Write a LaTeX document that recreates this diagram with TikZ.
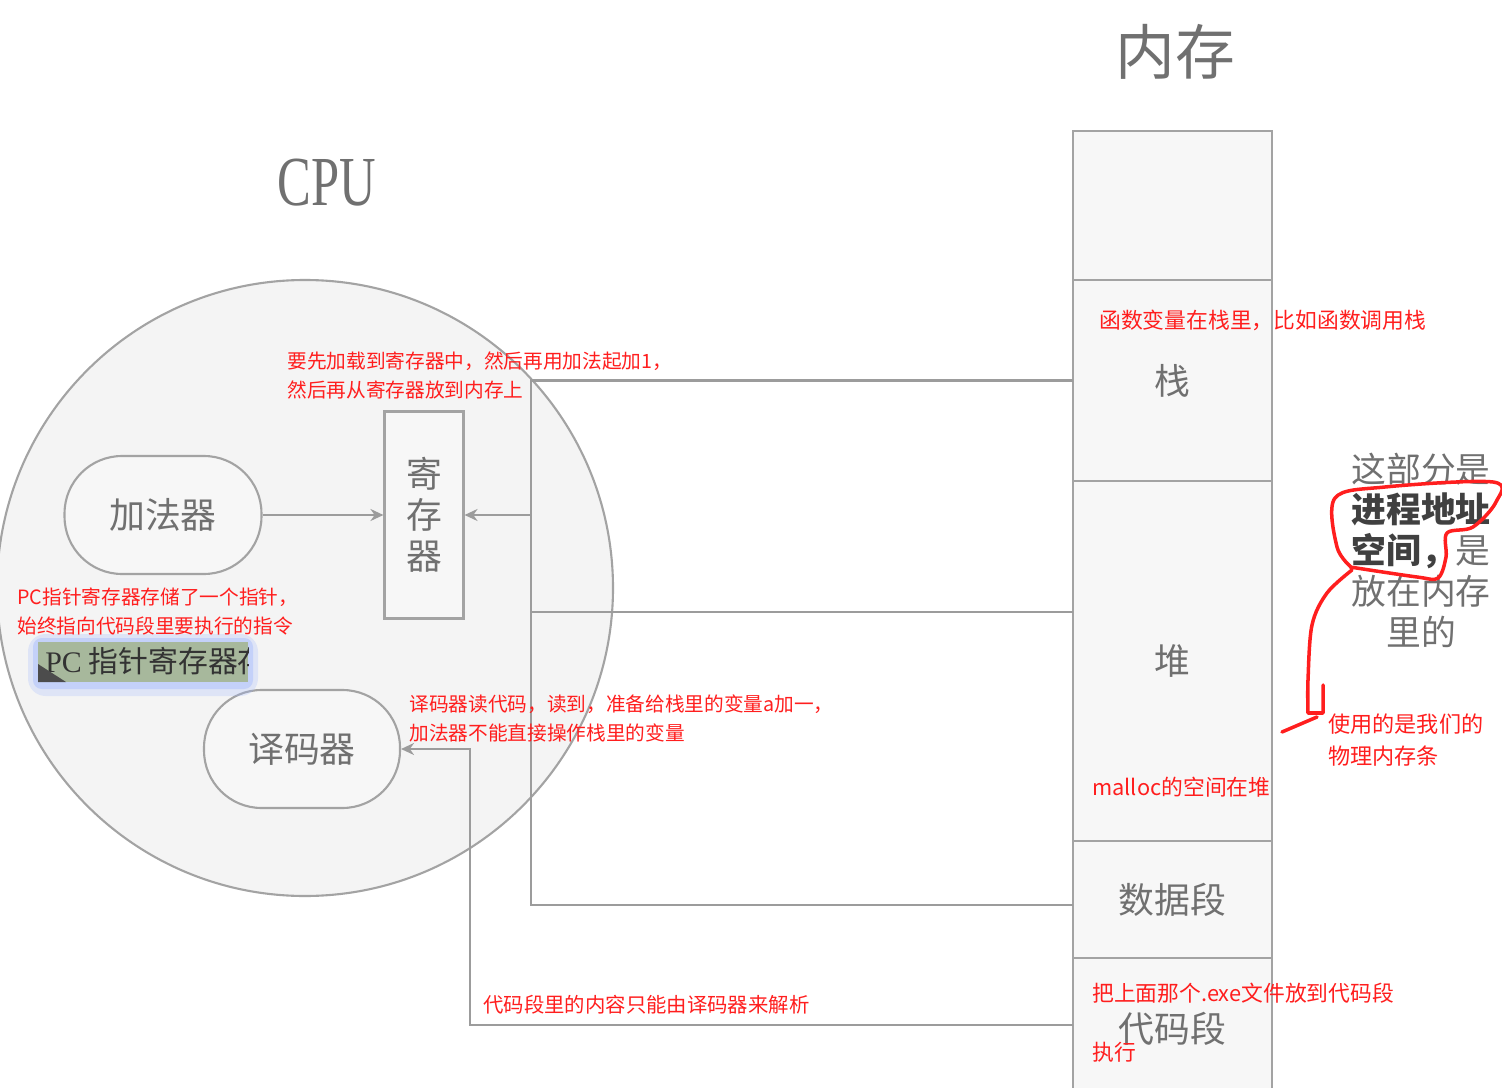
\documentclass[tikz,border=0pt]{standalone}
\usepackage{fontspec}
\setmainfont{Noto Sans CJK SC}
\newfontfamily\latinserif{Liberation Serif}
\usetikzlibrary{positioning,arrows.meta}
\definecolor{boxgray}{HTML}{A3A3A3}
\definecolor{wiregray}{HTML}{9C9C9C}
\definecolor{labgray}{HTML}{707070}
\definecolor{cpufill}{HTML}{F4F4F4}
\definecolor{unitfill}{HTML}{F7F7F7}
\definecolor{memfill}{HTML}{F7F7F7}
\definecolor{notered}{HTML}{FF1E1E}
\definecolor{pcgreen}{HTML}{A7B89C}
\definecolor{glowblue}{HTML}{9DB6FF}
\begin{document}
\begin{tikzpicture}[x=0.02cm, y=-0.02cm,
    wire/.style={draw=wiregray, line width=1.3pt},
    feed/.style={wire, -{Stealth[length=2.6mm, width=2.4mm]}},
    unit/.style={draw=boxgray, line width=1.2pt, fill=unitfill, text=labgray,
      font=\fontsize{20.4}{23.2}\selectfont},
    memblk/.style={unit, fill=memfill, outer sep=0pt, minimum width=3.98cm},
    note/.style={text=notered, inner sep=0pt, anchor=west, align=left,
      font=\fontsize{11.2}{16.4}\selectfont},
    bignote/.style={note, font=\fontsize{12.4}{18.2}\selectfont},
    title/.style={text=labgray, inner sep=0pt}]
  \useasboundingbox (0,0) rectangle (1502,1088);

  % cpu side
  \node[title, font=\fontsize{34}{34}\selectfont] (memtitle) at (1175,52) {内存};
  \node[title, font=\latinserif\fontsize{40}{40}\selectfont, xscale=0.72] (cputitle) at (327,183) {CPU};
  \draw[boxgray, line width=1.2pt, fill=cpufill] (305,588) circle (308);

  \node[unit, rounded corners=1.15cm, minimum width=3.94cm, minimum height=2.36cm] (adder) at (163,515) {加法器};
  \node[unit, minimum width=1.58cm, minimum height=4.14cm, align=center] (reg) at (424,515) {寄\\存\\器};
  \node[unit, rounded corners=1.15cm, minimum width=3.92cm, minimum height=2.36cm] (dec) at (302,749) {译码器};

  % memory column
  \node[memblk, minimum height=2.98cm] (free) at (1172.5,205.5) {};
  \node[memblk, minimum height=4.02cm, below=0pt of free] (stack) {栈};
  \node[memblk, minimum height=7.2cm, below=0pt of stack] (heap) {堆};
  \node[memblk, minimum height=2.34cm, below=0pt of heap] (data) {数据段};
  \node[memblk, minimum height=2.84cm, below=0pt of data] (code) {代码段};

  % connectors
  \coordinate (bus) at (531,0);
  \coordinate (cbus) at (470,0);
  \coordinate (hp) at ([yshift=0.98cm]heap.west);
  \coordinate (dp) at ([yshift=-0.11cm]data.west);
  \coordinate (cp) at ([yshift=0.08cm]code.west);
  \draw[feed] (adder) -- (reg);
  \draw[wire] (stack.west) -| (bus |- dp) -- (dp);
  \draw[wire] (hp) -- (bus |- hp);
  \draw[feed] (bus |- reg.east) -- (reg.east);
  \draw[feed] (cp) -| (cbus |- dec.east) -- (dec.east);

  % pc register clip
  \fill[glowblue, opacity=0.25, rounded corners=10pt] (28,634) rectangle (258,696);
  \fill[glowblue, opacity=0.4, rounded corners=5pt] (33,638) rectangle (253,689);
  \fill[pcgreen] (38,642) rectangle (248,682);
  \begin{scope}
    \clip (38,642) rectangle (248,682);
    \node[inner sep=0pt, anchor=west, text=black!80, font=\fontsize{17}{17}\selectfont] (pc) at (45,661) {{\latinserif PC} 指针寄存器存};
    \fill[black!70] (38,664) -- (38,682) -- (66,682) -- cycle;
  \end{scope}

  % notes
  \node[note] (addnote) at (287,375.5) {要先加载到寄存器中，然后再用加法起加1，\\然后再从寄存器放到内存上};
  \node[note] (pcnote) at (17,611.5) {PC指针寄存器存储了一个指针，\\始终指向代码段里要执行的指令};
  \node[note] (decnote) at (409,718.5) {译码器读代码，读到，准备给栈里的变量a加一，\\加法器不能直接操作栈里的变量};
  \node[note, font=\fontsize{11.6}{16}\selectfont] (codenote) at (483,1005) {代码段里的内容只能由译码器来解析};
  \node[bignote] (stacknote) at (1099,320) {函数变量在栈里，比如函数调用栈};
  \node[bignote] (heapnote) at (1092,787) {malloc的空间在堆};
  \node[bignote] (exenote) at (1092,993) {把上面那个.exe文件放到代码段};
  \node[bignote] (runnote) at (1092,1052) {执行};
  \node[bignote, font=\fontsize{12.6}{18.4}\selectfont] (physnote) at (1328,740) {使用的是我们的\\物理内存条};

  % address space remark
  \node[title, align=center, font=\fontsize{19.8}{23.2}\selectfont] (spacenote) at (1421,550)
    {这部分是\\\textcolor{black!75}{\textbf{进程地址}}\\\textcolor{black!75}{\textbf{空间，}}是\\放在内存\\里的};
  \draw[notered, line width=2pt, line join=round, line cap=round]
    plot[smooth, tension=0.55] coordinates {(1352,568) (1337,547) (1335,498) (1385,487) (1493,482) (1496,502) (1473,527) (1447,533) (1446,557) (1438,578) (1417,577) (1350,567)};
  \draw[notered, line width=2pt, line join=round, line cap=round]
    plot[smooth, tension=0.55] coordinates {(1352,570) (1327,593) (1312,625) (1308,680) (1308,713)} -- (1323,713) -- (1323,685);
  \draw[notered, line width=2pt, line cap=round] (1282,732) -- (1317,717);
\end{tikzpicture}
\end{document}
